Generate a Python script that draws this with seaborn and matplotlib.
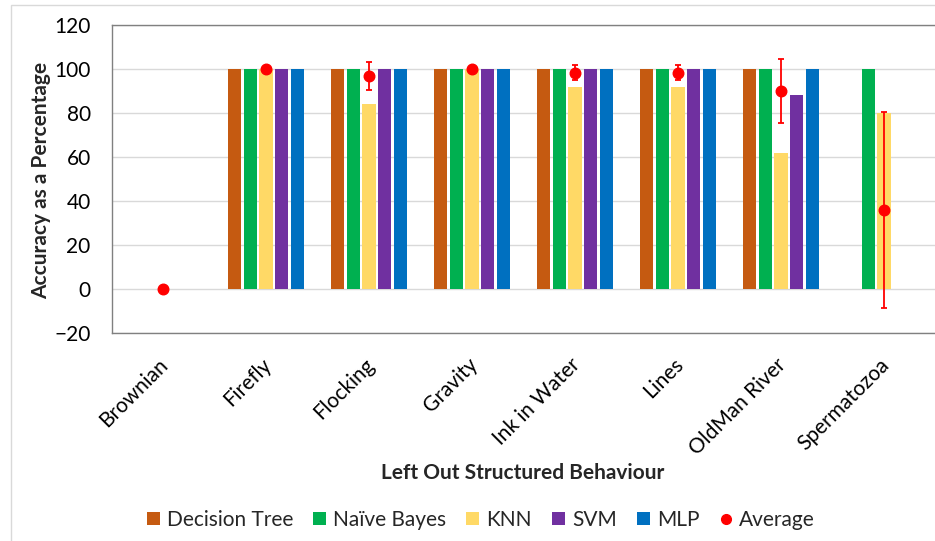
import matplotlib
matplotlib.use("Agg")
import matplotlib.pyplot as plt
import matplotlib.transforms as mtransforms
from matplotlib.patches import Patch, Rectangle
from matplotlib.lines import Line2D
import seaborn as sns
import pandas as pd

# Left-out behaviours and per-classifier accuracy (%)
behaviours = ["Brownian", "Firefly", "Flocking", "Gravity",
              "Ink in Water", "Lines", "OldMan River", "Spermatozoa"]
classifiers = ["Decision Tree", "Naïve Bayes", "KNN", "SVM", "MLP"]

decision_tree = [0, 100, 100, 100, 100, 100, 100, 0]
naive_bayes = [0, 100, 100, 100, 100, 100, 100, 100]
knn = [0, 100, 84, 100, 92, 92, 62, 80]
svm = [0, 100, 100, 100, 100, 100, 88, 0]
mlp = [0, 100, 100, 100, 100, 100, 100, 0]

# Mean accuracy across classifiers and its spread
average = [0, 100, 96.8, 100, 98.4, 98.4, 90, 36]
average_err = [0, 0, 6.4, 0, 3.2, 3.2, 14.75, 44.5]

yticks = [-20, 0, 20, 40, 60, 80, 100, 120]

colors = ["#C55A11", "#00B050", "#FFD966", "#7030A0", "#0070C0"]
avg_color = "#FF0000"

sns.set_style("white")
plt.rcParams["font.family"] = ["Lato", "DejaVu Sans"]

series = [decision_tree, naive_bayes, knn, svm, mlp]
rows = []
for name, vals in zip(classifiers, series):
    for b, v in zip(behaviours, vals):
        rows.append({"Behaviour": b, "Classifier": name, "Accuracy": v})
df = pd.DataFrame(rows)

W, H = 935, 541
fig = plt.figure(figsize=(W / 100, H / 100), dpi=100)
ax = fig.add_axes([111.5 / W, 1 - 333 / H, 824 / W, 308 / H])

# outer chart frame
fig.patches.append(Rectangle((10.5 / W, -0.05), 1.2, 1 - 5 / H + 0.05,
                             transform=fig.transFigure, fill=False,
                             edgecolor="#d9d9d9", linewidth=1.0, zorder=0))

sns.barplot(data=df, x="Behaviour", y="Accuracy", hue="Classifier",
            order=behaviours, hue_order=classifiers, palette=colors,
            width=0.76, gap=0.16, errorbar=None, legend=False,
            linewidth=0, saturation=1, ax=ax, zorder=2)

ax.errorbar(range(len(behaviours)), average, yerr=average_err, fmt="o",
            color=avg_color, ecolor=avg_color, markersize=7.6,
            elinewidth=1.3, capsize=2.0, capthick=1.3, zorder=4)

ax.set_xlim(-0.5, 7.5)
ax.set_ylim(-20, 120)
ax.set_yticks(yticks)
ax.yaxis.grid(True, color="#d9d9d9", linewidth=1.0, zorder=0)
ax.set_axisbelow(True)
for side in ["top", "bottom", "left"]:
    ax.spines[side].set_color("#808080")
    ax.spines[side].set_linewidth(1.0)
ax.spines["right"].set_visible(False)

ax.tick_params(axis="both", length=0, labelsize=15, colors="black")
ax.tick_params(axis="y", pad=15)
ax.tick_params(axis="x", pad=12)
ax.set_xticks(range(len(behaviours)))
ax.set_xticklabels(behaviours, rotation=45, ha="right",
                   rotation_mode="anchor", fontsize=15)
shift = mtransforms.ScaledTranslation(-5 / 100, -5 / 100, fig.dpi_scale_trans)
for lbl in ax.get_xticklabels():
    lbl.set_transform(lbl.get_transform() + shift)
ax.set_xlabel("")
ax.set_ylabel("")

fig.text(41 / W, 1 - 180 / H, "Accuracy as a Percentage", rotation=90,
         ha="center", va="center", fontsize=15, fontweight="bold")
fig.text(523 / W, 1 - 473 / H, "Left Out Structured Behaviour",
         ha="center", va="center", fontsize=15, fontweight="bold")

handles = [Patch(facecolor=c, edgecolor="none", label=n)
           for c, n in zip(colors, classifiers)]
handles.append(Line2D([], [], marker="o", linestyle="none", color=avg_color,
                      markersize=7, label="Average"))
fig.legend(handles=handles, loc="center", bbox_to_anchor=(481 / W, 1 - 520 / H),
           ncol=6, frameon=False, fontsize=15, handlelength=0.62,
           handleheight=0.62, handletextpad=0.35, columnspacing=0.95)

fig.savefig("out.png", dpi=100)
